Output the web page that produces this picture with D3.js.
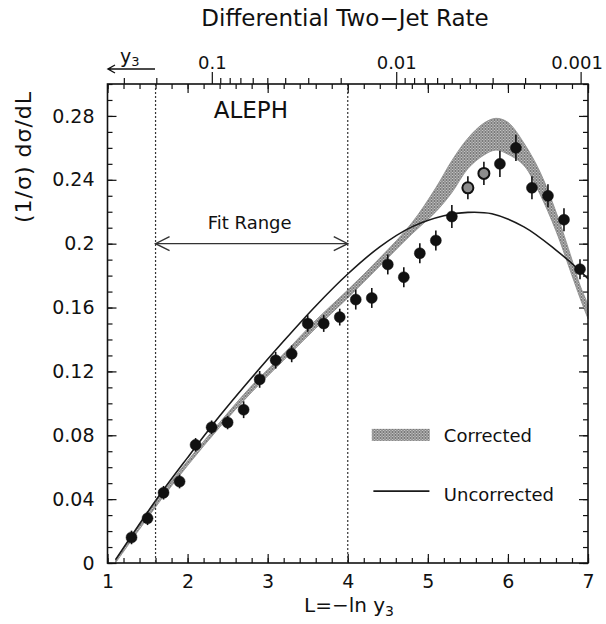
<!DOCTYPE html>
<html>
<head>
<meta charset="utf-8">
<script src="https://cdn.jsdelivr.net/npm/d3@7"></script>
<style>
  body { margin: 0; background: #fff; }
  text { font-family: "DejaVu Sans", sans-serif; fill: #111; }
</style>
</head>
<body>
<script>
// measured points (L = -ln y3)
const dataL = [1.3, 1.5, 1.7, 1.9, 2.1, 2.3, 2.5, 2.7, 2.9, 3.1, 3.3, 3.5, 3.7, 3.9, 4.1,
               4.3, 4.5, 4.7, 4.9, 5.1, 5.3, 5.5, 5.7, 5.9, 6.1, 6.3, 6.5, 6.7, 6.9];
const dataRate = [0.016, 0.028, 0.044, 0.051, 0.074, 0.085, 0.088, 0.096, 0.115, 0.127, 0.131, 0.150, 0.150, 0.154, 0.165,
                  0.166, 0.187, 0.179, 0.194, 0.202, 0.217, 0.235, 0.244, 0.250, 0.260, 0.235, 0.230, 0.215, 0.184];
const dataErr = [0.003, 0.003, 0.003, 0.003, 0.003, 0.003, 0.003, 0.004, 0.004, 0.004, 0.004, 0.004, 0.004, 0.004, 0.005,
                 0.005, 0.005, 0.005, 0.005, 0.005, 0.006, 0.006, 0.006, 0.007, 0.007, 0.006, 0.006, 0.006, 0.005];
const dataOpen = [5.5, 5.7];

// uncorrected curve
const uncorrL = [1.1, 1.6, 2.0, 2.4, 2.8, 3.2, 3.6, 4.0, 4.4, 4.8, 5.2, 5.5, 5.8, 6.2, 6.6, 6.9, 7.0];
const uncorrRate = [0.002, 0.039, 0.066, 0.092, 0.116, 0.139, 0.161, 0.181, 0.198, 0.2105, 0.2175, 0.2196, 0.2187, 0.2105, 0.196, 0.183, 0.178];

// corrected band
const bandL = [1.1, 1.6, 2.0, 2.4, 2.8, 3.2, 3.6, 4.0, 4.4, 4.8, 5.1, 5.3, 5.5, 5.7, 5.85, 6.0, 6.2, 6.4, 6.6, 6.8, 6.9, 7.0];
const bandLow = [0.000, 0.035, 0.061, 0.085, 0.107, 0.127, 0.147, 0.166, 0.186, 0.206, 0.220, 0.232, 0.247, 0.2555, 0.2586, 0.256, 0.249, 0.231, 0.208, 0.180, 0.166, 0.153];
const bandHigh = [0.002, 0.038, 0.064, 0.088, 0.111, 0.131, 0.152, 0.171, 0.191, 0.213, 0.235, 0.252, 0.266, 0.2755, 0.2785, 0.276, 0.263, 0.245, 0.220, 0.190, 0.174, 0.162];

const yTicks = [0, 0.04, 0.08, 0.12, 0.16, 0.2, 0.24, 0.28];
const xTicks = [1, 2, 3, 4, 5, 6, 7];
const y3Labels = [0.1, 0.01, 0.001];
const fitRange = [1.6, 4.0];

const W = 606, H = 624;
const margin = { top: 84, right: 18, bottom: 61, left: 107.5 };
const w = W - margin.left - margin.right, h = H - margin.top - margin.bottom;

const svg = d3.select('body').append('svg').attr('width', W).attr('height', H);

const defs = svg.append('defs');
const pat = defs.append('pattern').attr('id', 'hatch')
    .attr('patternUnits', 'userSpaceOnUse').attr('width', 3).attr('height', 3);
pat.append('rect').attr('width', 3).attr('height', 3).attr('fill', '#c4c4c4');
pat.append('path').attr('d', 'M0,0L3,3M3,0L0,3').attr('stroke', '#5a5a5a').attr('stroke-width', 0.7);

const g = svg.append('g').attr('transform', `translate(${margin.left},${margin.top})`);

const x = d3.scaleLinear().domain([1, 7]).range([0, w]);
const y = d3.scaleLinear().domain([0, 0.3]).range([h, 0]);
// y3 = exp(-L), so a log scale lines up with x
const xy3 = d3.scaleLog().domain([Math.exp(-1), Math.exp(-7)]).range([0, w]);

// ticks
const minorX = d3.range(1, 7.001, 0.2).map(d => +d.toFixed(1));
const minorY = d3.range(0, 0.3001, 0.01).map(d => +d.toFixed(2));

function tickAxis(axis, tr) {
    const a = g.append('g').attr('transform', tr).call(axis);
    a.select('.domain').remove();
    a.selectAll('line').attr('stroke', '#111').attr('stroke-width', 1.2);
    return a;
}

const bottom = tickAxis(d3.axisBottom(x).tickValues(xTicks).tickSize(-9).tickPadding(12).tickFormat(d3.format('d')), `translate(0,${h})`);
bottom.selectAll('text').attr('font-size', 19).attr('font-family', 'DejaVu Sans').attr('fill', '#111');
tickAxis(d3.axisBottom(x).tickValues(minorX).tickSize(-5).tickFormat(''), `translate(0,${h})`);
tickAxis(d3.axisTop(x).tickValues(xTicks).tickSize(-9).tickFormat(''), 'translate(0,0)');
tickAxis(d3.axisTop(x).tickValues(minorX).tickSize(-5).tickFormat(''), 'translate(0,0)');

const left = tickAxis(d3.axisLeft(y).tickValues(yTicks).tickSize(-9).tickPadding(13).tickFormat(d => d === 0 ? '0' : d3.format('.2~f')(d)), 'translate(0,0)');
left.selectAll('text').attr('font-size', 19).attr('font-family', 'DejaVu Sans').attr('fill', '#111');
tickAxis(d3.axisLeft(y).tickValues(minorY).tickSize(-5).tickFormat(''), 'translate(0,0)');
tickAxis(d3.axisRight(y).tickValues(yTicks).tickSize(-9).tickFormat(''), `translate(${w},0)`);
tickAxis(d3.axisRight(y).tickValues(minorY).tickSize(-5).tickFormat(''), `translate(${w},0)`);

// top y3 log axis, ticks outward
const y3Minor = xy3.ticks().filter(d => y3Labels.indexOf(d) < 0);
tickAxis(d3.axisTop(xy3).tickValues(y3Minor).tickSize(6).tickFormat(''), 'translate(0,0)');
const topLab = tickAxis(d3.axisTop(xy3).tickValues(y3Labels).tickSize(12).tickPadding(3).tickFormat(d => String(d)), 'translate(0,0)');
topLab.selectAll('text').attr('font-size', 18).attr('font-family', 'DejaVu Sans').attr('fill', '#111')
    .attr('dx', d => d === 0.001 ? -4 : 0);

// corrected band
const area = d3.area().x((d, i) => x(bandL[i])).y0((d, i) => y(bandLow[i])).y1((d, i) => y(bandHigh[i]))
    .curve(d3.curveCatmullRom);
g.append('path').datum(bandL).attr('d', area)
    .attr('fill', 'url(#hatch)').attr('stroke', '#8a8a8a').attr('stroke-width', 0.8);

// uncorrected line
const line = d3.line().x((d, i) => x(uncorrL[i])).y((d, i) => y(uncorrRate[i])).curve(d3.curveCatmullRom);
g.append('path').datum(uncorrL).attr('d', line)
    .attr('fill', 'none').attr('stroke', '#1a1a1a').attr('stroke-width', 1.6);

// fit range lines
g.selectAll('.fit').data(fitRange).enter().append('line')
    .attr('x1', d => x(d)).attr('x2', d => x(d)).attr('y1', 0).attr('y2', h)
    .attr('stroke', '#333').attr('stroke-width', 1.2).attr('stroke-dasharray', '2,2');

const ay = y(0.2);
g.append('line').attr('x1', x(fitRange[0])).attr('x2', x(fitRange[1])).attr('y1', ay).attr('y2', ay)
    .attr('stroke', '#333').attr('stroke-width', 1.4);
g.append('path')
    .attr('d', `M${x(fitRange[0]) + 14},${ay - 7}L${x(fitRange[0])},${ay}L${x(fitRange[0]) + 14},${ay + 7}` +
               `M${x(fitRange[1]) - 14},${ay - 7}L${x(fitRange[1])},${ay}L${x(fitRange[1]) - 14},${ay + 7}`)
    .attr('fill', 'none').attr('stroke', '#333').attr('stroke-width', 1.4);
g.append('text').attr('x', (x(fitRange[0]) + x(fitRange[1])) / 2 - 2).attr('y', ay - 15)
    .attr('text-anchor', 'middle').attr('font-size', 18).text('Fit Range');

// data points
const pts = g.selectAll('.pt').data(dataL).enter().append('g');
pts.append('line')
    .attr('x1', d => x(d)).attr('x2', d => x(d))
    .attr('y1', (d, i) => y(dataRate[i] - dataErr[i]) + 2).attr('y2', (d, i) => y(dataRate[i] + dataErr[i]) - 2)
    .attr('stroke', '#111').attr('stroke-width', 1.6);
pts.append('circle')
    .attr('cx', d => x(d)).attr('cy', (d, i) => y(dataRate[i])).attr('r', 5.5)
    .attr('fill', d => dataOpen.indexOf(d) >= 0 ? '#8c8c8c' : '#111')
    .attr('stroke', '#111').attr('stroke-width', d => dataOpen.indexOf(d) >= 0 ? 2 : 0.5);

// frame
g.append('rect').attr('width', w).attr('height', h)
    .attr('fill', 'none').attr('stroke', '#111').attr('stroke-width', 1.6);

// labels
g.append('text').attr('x', x(2.79)).attr('y', y(0.2785)).attr('text-anchor', 'middle')
    .attr('font-size', 23).text('ALEPH');

// legend
g.append('rect').attr('x', x(4.3)).attr('y', y(0.084)).attr('width', 58).attr('height', 12)
    .attr('fill', 'url(#hatch)');
g.append('text').attr('x', x(5.2)).attr('y', y(0.076)).attr('font-size', 18).text('Corrected');
g.append('line').attr('x1', x(4.32)).attr('x2', x(5.02)).attr('y1', y(0.045)).attr('y2', y(0.045))
    .attr('stroke', '#1a1a1a').attr('stroke-width', 1.6);
g.append('text').attr('x', x(5.2)).attr('y', y(0.039)).attr('font-size', 18).text('Uncorrected');

svg.append('text').attr('x', 345).attr('y', 26).attr('text-anchor', 'middle')
    .attr('font-size', 23).text('Differential Two\u2212Jet Rate');

svg.append('text').attr('transform', 'translate(31,157) rotate(-90)').attr('text-anchor', 'middle')
    .attr('font-size', 22).attr('letter-spacing', 1).text('(1/\u03c3) d\u03c3/dL');

const xl = svg.append('text').attr('x', 349).attr('y', 612).attr('text-anchor', 'middle').attr('font-size', 20);
xl.append('tspan').text('L=\u2212ln y');
xl.append('tspan').attr('font-size', 14).attr('dy', 4).text('3');

// y3 arrow label
const yl = svg.append('text').attr('x', 120).attr('y', 63).attr('font-size', 19);
yl.append('tspan').text('y');
yl.append('tspan').attr('font-size', 13).attr('dy', 3).text('3');
svg.append('path').attr('d', 'M155,69L108,69M115,65L108,69L115,73')
    .attr('fill', 'none').attr('stroke', '#111').attr('stroke-width', 1.4);
</script>
</body>
</html>
